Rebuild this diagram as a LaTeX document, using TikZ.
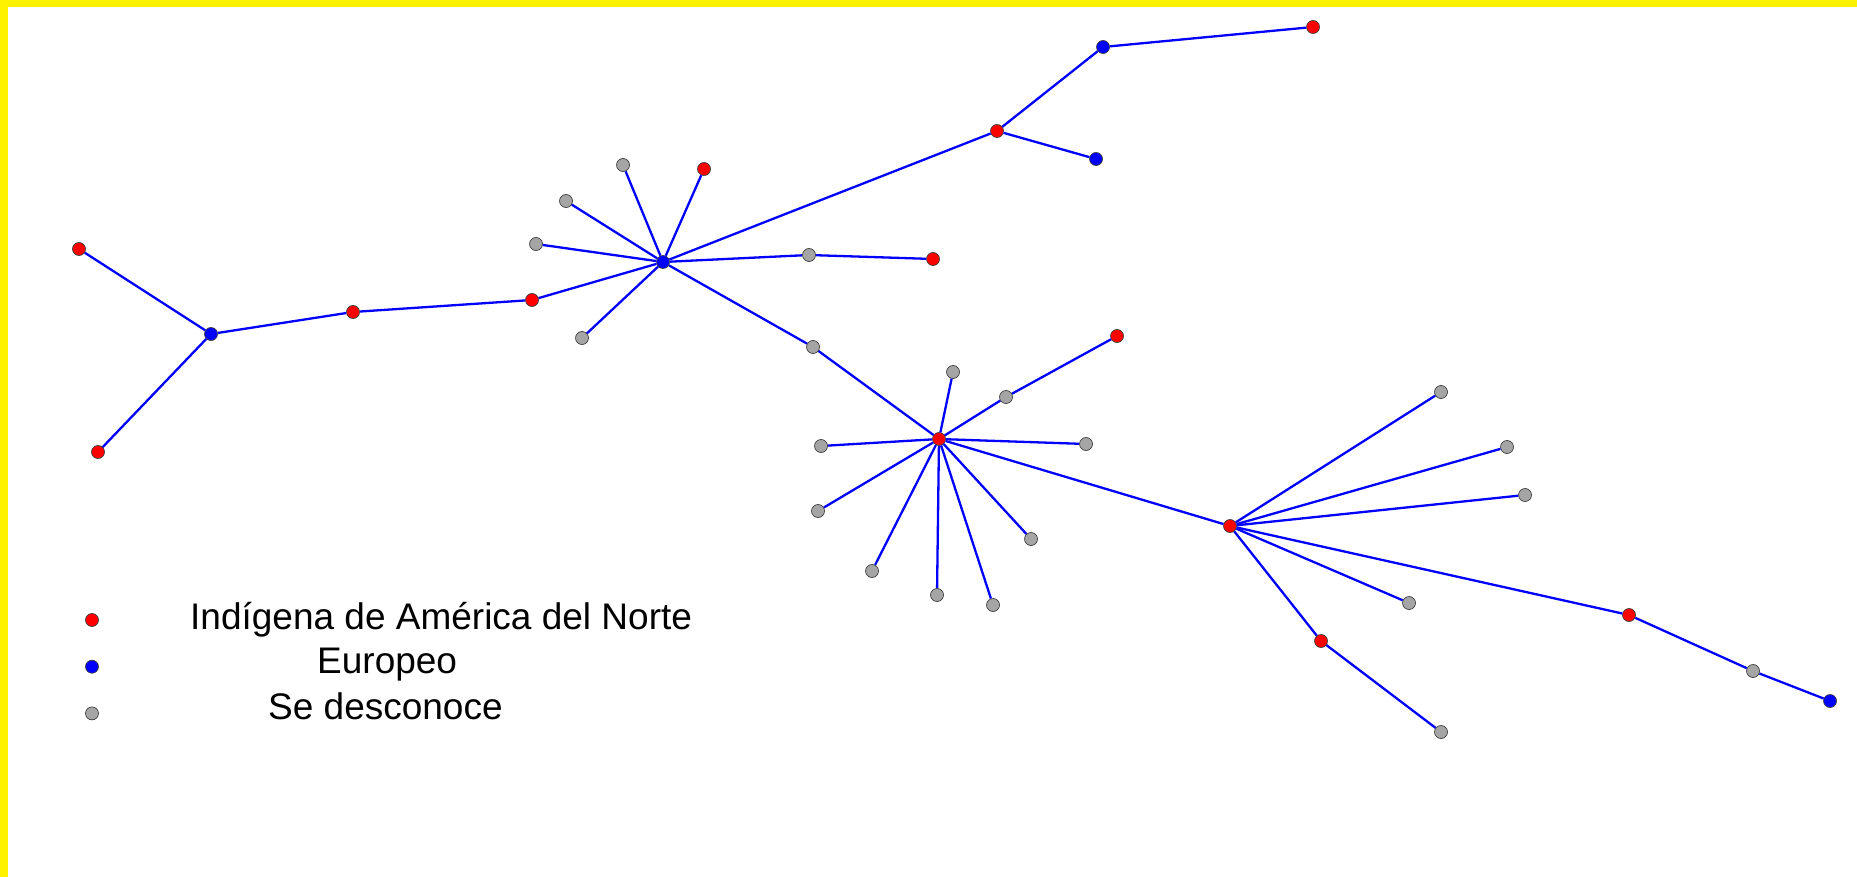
\documentclass[tikz,border=0pt]{standalone}
\usepackage{fontspec}
\setmainfont{Liberation Sans}
\usetikzlibrary{positioning}

\definecolor{descgray}{RGB}{165,165,165}

\tikzset{
  basic/.style     = {circle, draw=black!75, line width=0.7pt, inner sep=0pt, minimum size=13pt},
  indigena/.style  = {basic, fill=red},
  europeo/.style   = {basic, fill=blue},
  desconoce/.style = {basic, fill=descgray},
  legend text/.style = {font=\fontsize{37}{40}\selectfont, anchor=base west, inner sep=0pt}
}

\begin{document}
\begin{tikzpicture}[
  x=1pt, y=-1pt,
  link/.style={draw=blue, line width=2.3pt}]

% frame of the screenshot
\useasboundingbox (0,0) rectangle (1857,877);
\fill[white] (0,0) rectangle (1857,877);
\fill[yellow] (0,0) rectangle (1857,7);
\fill[yellow] (0,0) rectangle (7.5,877);

% left branch
\node[europeo]  (b1)  at (211,334) {};
\node[indigena] (b11) at (79,249) {};
\node[indigena] (b12) at (98,452) {};
\node[indigena] (b13) at (353,312) {};
\node[indigena] (b14) at (532,300) {};

% first star, around the blue hub
\node[europeo]   (c1)  at (663,262) {};
\node[desconoce] (c11) at (623,165) {};
\node[indigena]  (c12) at (704,169) {};
\node[desconoce] (c13) at (566,201) {};
\node[desconoce] (c14) at (536,244) {};
\node[desconoce] (c15) at (582,338) {};
\node[desconoce] (c16) at (809,255) {};
\node[desconoce] (c17) at (813,347) {};
\node[indigena]  (c18) at (997,131) {};
\node[indigena]  (c161) at (933,259) {};
\node[europeo]   (c181) at (1103,47) {};
\node[europeo]   (c182) at (1096,159) {};
\node[indigena]  (c1811) at (1313,27) {};

% second star, around the red hub
\node[indigena]  (c2)  at (939,439) {};
\node[desconoce] (c21) at (953,372) {};
\node[desconoce] (c22) at (1006,397) {};
\node[desconoce] (c23) at (821,446) {};
\node[desconoce] (c24) at (1086,444) {};
\node[desconoce] (c25) at (818,511) {};
\node[desconoce] (c26) at (1031,539) {};
\node[desconoce] (c27) at (872,571) {};
\node[desconoce] (c28) at (937,595) {};
\node[desconoce] (c29) at (993,605) {};
\node[indigena]  (c221) at (1117,336) {};

% third star
\node[indigena]  (c3)  at (1230,526) {};
\node[desconoce] (c31) at (1441,392) {};
\node[desconoce] (c32) at (1507,447) {};
\node[desconoce] (c33) at (1525,495) {};
\node[desconoce] (c34) at (1409,603) {};
\node[indigena]  (c35) at (1321,641) {};
\node[indigena]  (c36) at (1629,615) {};
\node[desconoce] (c351) at (1441,732) {};
\node[desconoce] (c361) at (1753,671) {};
\node[europeo]   (c3611) at (1830,701) {};

% legend
\node[indigena] (l1) at (92,620) {};
\node[europeo, below=33pt of l1] (l2) {};
\node[desconoce, below=33pt of l2] (l3) {};
\node[legend text] (t1) at (190,629) {Indígena de América del Norte};
\node[legend text] (t2) at (317,673) {Europeo};
\node[legend text] (t3) at (268,719) {Se desconoce};

% lines of the left branch
\foreach \value in {1,...,3}
  \draw[link] (b1) -- (b1\value);
\draw[link] (b13) -- (b14) -- (c1);

% lines from each hub to its neighbours
\foreach \value in {1,...,8}
  \draw[link] (c1) -- (c1\value);
\draw[link] (c16) -- (c161);
\draw[link] (c18) -- (c181) -- (c1811);
\draw[link] (c18) -- (c182);
\draw[link] (c17) -- (c2);

\foreach \value in {1,...,9}
  \draw[link] (c2) -- (c2\value);
\draw[link] (c22) -- (c221);
\draw[link] (c2) -- (c3);

\foreach \value in {1,...,6}
  \draw[link] (c3) -- (c3\value);
\draw[link] (c35) -- (c351);
\draw[link] (c36) -- (c361) -- (c3611);
\end{tikzpicture}
\end{document}
